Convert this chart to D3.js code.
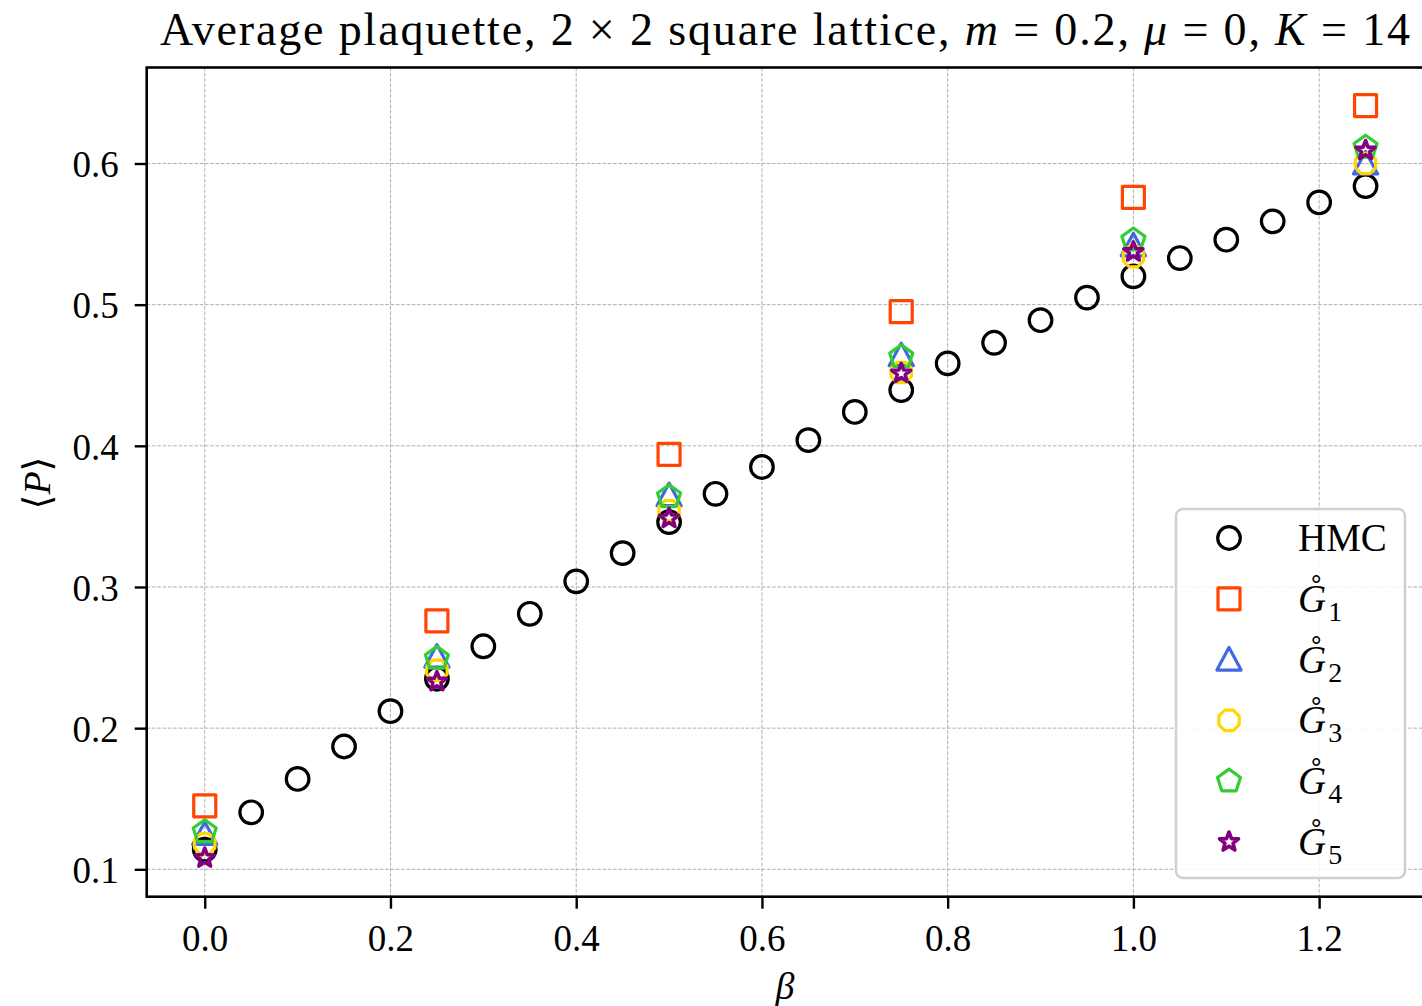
<!DOCTYPE html>
<html><head><meta charset="utf-8">
<script src="https://cdn.jsdelivr.net/npm/d3@7"></script>
<style>body{margin:0;background:#fff}svg{display:block}</style>
</head><body>
<svg id="c" width="1422" height="1006"></svg>
<script>
const betaHMC = [0,0.05,0.1,0.15,0.2,0.25,0.3,0.35,0.4,0.45,0.5,0.55,0.6,0.65,0.7,0.75,0.8,0.85,0.9,0.95,1.0,1.05,1.1,1.15,1.2,1.25];
const hmc = [0.114,0.1404,0.164,0.187,0.212,0.235,0.258,0.281,0.304,0.324,0.346,0.366,0.385,0.404,0.424,0.4395,0.4584,0.473,0.489,0.505,0.520,0.533,0.546,0.559,0.5724,0.584];
const betaG = [0,0.25,0.5,0.75,1.0,1.25];
const g1 = [0.145,0.276,0.394,0.495,0.576,0.641];
const g2 = [0.125,0.2506,0.365,0.4642,0.542,0.600];
const g3 = [0.118,0.241,0.354,0.452,0.534,0.600];
const g4 = [0.1266,0.2494,0.3639,0.463,0.5457,0.6115];
const g5 = [0.108,0.233,0.3486,0.4513,0.5374,0.6092];
const xTicks = [0.0,0.2,0.4,0.6,0.8,1.0,1.2];
const yTicks = [0.1,0.2,0.3,0.4,0.5,0.6];
const seriesNames = ["HMC","1","2","3","4","5"];

const svg = d3.select("#c");
const L=146.7, R=1423.6, T=67.5, B=896.7;
const x = d3.scaleLinear().domain([-0.0625,1.3125]).range([L,R]);
const y = d3.scaleLinear().domain([0.0806,0.668]).range([B,T]);
const serif = "'Liberation Serif','DejaVu Serif',serif";

// grid
const grid = svg.append("g").attr("stroke","#b0b0b0").attr("stroke-width",1).attr("stroke-dasharray","3.7,1.6");
grid.selectAll("line.v").data(xTicks).join("line").attr("x1",d=>x(d)).attr("x2",d=>x(d)).attr("y1",T).attr("y2",B);
grid.selectAll("line.h").data(yTicks).join("line").attr("y1",d=>y(d)).attr("y2",d=>y(d)).attr("x1",L).attr("x2",R);

// marker shapes
function poly(n, r, rot){
  const pts=[]; for(let i=0;i<n;i++){const a=rot+2*Math.PI*i/n; pts.push([r*Math.sin(a), -r*Math.cos(a)]);}
  return "M"+pts.map(p=>p.join(",")).join("L")+"Z";
}
function star(r){const ri=r*0.42;const pts=[];for(let i=0;i<10;i++){const a=Math.PI*i/5;const rr=i%2?ri:r;pts.push([rr*Math.sin(a),-rr*Math.cos(a)]);}return "M"+pts.map(p=>p.join(",")).join("L")+"Z";}
const shapes = {
  circle: r=>`M${r},0A${r},${r} 0 1,1 ${-r},0A${r},${r} 0 1,1 ${r},0Z`,
  square: r=>`M${-r},${-r}H${r}V${r}H${-r}Z`,
  triangle: r=>`M0,${-r*1.1}L${-r*1.1},${r*0.95}L${r*1.1},${r*0.95}Z`,
  octagon: r=>poly(8,r*1.05,Math.PI/8),
  pentagon: r=>poly(5,r*1.15,0),
  star: r=>star(r)
};
const series = [
  {name:"HMC", xs:betaHMC, ys:hmc, color:"#000000", shape:"circle", r:11.3, sw:3.2},
  {name:"1", xs:betaG, ys:g1, color:"#FF4500", shape:"square", r:11, sw:3.2},
  {name:"2", xs:betaG, ys:g2, color:"#4169E1", shape:"triangle", r:11, sw:3.2},
  {name:"3", xs:betaG, ys:g3, color:"#FFD700", shape:"octagon", r:10.5, sw:3.2},
  {name:"4", xs:betaG, ys:g4, color:"#32CD32", shape:"pentagon", r:10.5, sw:3.2},
  {name:"5", xs:betaG, ys:g5, color:"#800080", shape:"star", r:10, sw:3.6}
];
const plot = svg.append("g");
series.forEach(s=>{
  plot.append("g").selectAll("path").data(s.xs.map((b,i)=>[b,s.ys[i]])).join("path")
    .attr("transform",d=>`translate(${x(d[0])},${y(d[1])})`)
    .attr("d",shapes[s.shape](s.r)).attr("fill","none").attr("stroke",s.color).attr("stroke-width",s.sw).attr("stroke-linejoin","round");
});

// spines
svg.append("rect").attr("x",L).attr("y",T).attr("width",R-L).attr("height",B-T).attr("fill","none").attr("stroke","#000").attr("stroke-width",2.6);

const xAxis = svg.append("g").attr("transform",`translate(0,${B})`).call(d3.axisBottom(x).tickValues(xTicks).tickFormat(d3.format(".1f")).tickSize(12).tickPadding(8));
const yAxis = svg.append("g").attr("transform",`translate(${L},0)`).call(d3.axisLeft(y).tickValues(yTicks).tickFormat(d3.format(".1f")).tickSize(12).tickPadding(16));
[xAxis,yAxis].forEach(a=>{
  a.select(".domain").remove();
  a.selectAll(".tick line").attr("stroke","#000").attr("stroke-width",2.4);
  a.selectAll(".tick text").attr("font-family",serif).attr("font-size",37).attr("fill","#000");
});
xAxis.selectAll(".tick text").attr("y",0).attr("dy",null).attr("transform","translate(0,54)");
yAxis.selectAll(".tick text").attr("dy","0.36em");

// title
svg.append("text").attr("x",160).attr("y",45).attr("font-family",serif).attr("font-size",46)
  .attr("textLength",1250).attr("lengthAdjust","spacing")
  .html('Average plaquette, 2 × 2 square lattice, <tspan font-style="italic">m</tspan> = 0.2, <tspan font-style="italic">μ</tspan> = 0, <tspan font-style="italic">K</tspan> = 14');
// axis labels
svg.append("text").attr("x",785).attr("y",999).attr("text-anchor","middle").attr("font-family",serif).attr("font-size",38).attr("font-style","italic").text("β");
svg.append("text").attr("transform","translate(50,483) rotate(-90)").attr("text-anchor","middle").attr("font-family",serif).attr("font-size",38)
  .html('⟨<tspan font-style="italic">P</tspan>⟩');

// legend
const lg = svg.append("g");
lg.append("rect").attr("x",1176).attr("y",509).attr("width",229).attr("height",369).attr("rx",7).attr("fill","#fff").attr("fill-opacity",0.85).attr("stroke","#d0d0d0").attr("stroke-width",2.5);
series.forEach((s,i)=>{
  const cy = 538 + i*60.8;
  lg.append("path").attr("transform",`translate(1229,${cy})`).attr("d",shapes[s.shape](s.r)).attr("fill","none").attr("stroke",s.color).attr("stroke-width",s.sw).attr("stroke-linejoin","round");
  const t = lg.append("text").attr("x",1298).attr("y",cy+13).attr("font-family",serif).attr("font-size",39).attr("fill","#000");
  if(s.name==="HMC") t.text("HMC");
  else {
    t.append("tspan").attr("font-style","italic").text("G\u030A");
    t.append("tspan").attr("font-size",28).attr("dx",2).attr("dy",9).text(s.name);
  }
});
</script>
</body></html>
